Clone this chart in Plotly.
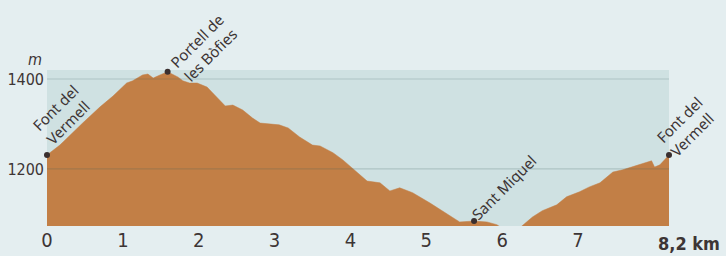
import plotly.graph_objects as go

# distance (km) and elevation (m)
km = [0, 0.17, 0.47, 0.70, 0.87, 1.05, 1.13, 1.26, 1.33, 1.40, 1.49, 1.59, 1.73, 1.79,
      1.88, 1.98, 2.11, 2.24, 2.35, 2.45, 2.58, 2.71, 2.81, 3.06, 3.18, 3.33, 3.50, 3.60,
      3.77, 3.90, 4.08, 4.22, 4.39, 4.52, 4.65, 4.82, 5.05, 5.27, 5.44, 5.63, 5.80, 5.93,
      6.03, 6.17, 6.26, 6.40, 6.53, 6.72, 6.85, 7.02, 7.15, 7.29, 7.46, 7.59, 7.97, 8.01,
      8.08, 8.17, 8.2]
elev = [1231, 1253, 1302, 1338, 1362, 1391, 1396, 1409, 1411, 1402, 1409, 1416, 1404, 1396,
        1391, 1391, 1382, 1360, 1340, 1342, 1331, 1313, 1302, 1298, 1291, 1271, 1253, 1251,
        1236, 1220, 1193, 1173, 1169, 1151, 1158, 1147, 1124, 1100, 1082, 1084, 1082, 1076,
        1065, 1060, 1073, 1093, 1107, 1120, 1138, 1149, 1160, 1169, 1193, 1198, 1218, 1204,
        1209, 1224, 1231]

# waypoints
wp_names = ["Font del<br>Vermell", "Portell de<br>les Bòfies", "Sant Miquel", "Font del<br>Vermell"]
wp_km = [0, 1.59, 5.63, 8.2]
wp_elev = [1231, 1416, 1084, 1231]
wp_shift_x = [15, 36, 30, 17]
wp_shift_y = [40, 24, 34, 28]

x_ticks = [0, 1, 2, 3, 4, 5, 6, 7]
y_ticks = [1200, 1400]
y_range = [1073, 1420]
x_range = [0, 8.2]
end_label = "<b>8,2 km</b>"

TEXT = "#3d3535"
ORANGE = "#c27f46"
NARROW = "DejaVu Sans Condensed"

fig = go.Figure()
fig.add_trace(go.Scatter(x=km, y=elev, mode="lines", fill="tozeroy",
                         fillcolor=ORANGE, line=dict(color=ORANGE, width=0.5),
                         hoverinfo="skip", showlegend=False))
fig.add_trace(go.Scatter(x=wp_km, y=wp_elev, mode="markers",
                         marker=dict(color="#3a2f2f", size=6),
                         cliponaxis=False, showlegend=False, hoverinfo="skip"))

for yv in y_ticks:
    fig.add_shape(type="line", xref="paper", x0=0, x1=1, yref="y", y0=yv, y1=yv,
                  line=dict(color="rgba(60,95,95,0.22)", width=1.2), layer="above")

for name, xv, yv, sx, sy in zip(wp_names, wp_km, wp_elev, wp_shift_x, wp_shift_y):
    fig.add_annotation(x=xv, y=yv, text=name, showarrow=False, textangle=-45,
                       xshift=sx, yshift=sy, align="left",
                       font=dict(family="Noto Sans, Open Sans, sans-serif", size=15, color=TEXT))

fig.add_annotation(x=x_range[1], y=0, yref="paper", text=end_label, showarrow=False,
                   xanchor="left", yanchor="top", xshift=-13, yshift=-5,
                   font=dict(family=NARROW, size=18, color=TEXT))
fig.add_annotation(x=0, xref="paper", y=1, yref="paper", text="<i>m</i>", showarrow=False,
                   xanchor="right", yanchor="bottom", xshift=-3, yshift=-1,
                   font=dict(family=NARROW, size=16, color=TEXT))

fig.update_layout(
    width=726, height=256,
    margin=dict(l=47, r=57, t=70, b=30, autoexpand=False),
    paper_bgcolor="#e4eef0", plot_bgcolor="#cfe1e2",
    showlegend=False,
    xaxis=dict(range=x_range, tickvals=x_ticks, showgrid=False, zeroline=False,
               showline=False, ticks="", fixedrange=True, automargin=False,
               tickfont=dict(family=NARROW, size=20, color=TEXT)),
    yaxis=dict(range=y_range, tickvals=y_ticks, showgrid=False, zeroline=False,
               showline=False, ticks="", fixedrange=True, ticklabelstandoff=2,
               automargin=False,
               tickfont=dict(family=NARROW, size=16, color=TEXT)),
)

fig.write_html("out.html", config={"displayModeBar": False},
               post_script="document.body.style.margin='0';document.body.style.background='#e4eef0';")
